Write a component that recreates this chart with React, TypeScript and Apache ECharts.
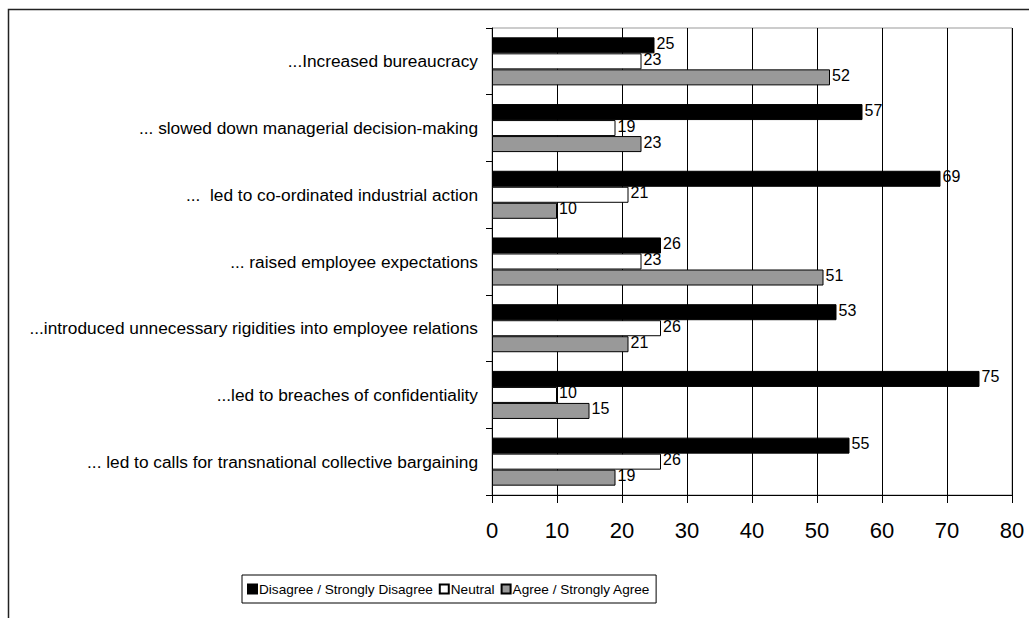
import React, { useEffect, useRef } from "react";
import * as echarts from "echarts";

const categories = [
  "...Increased bureaucracy",
  "... slowed down managerial decision-making",
  "...  led to co-ordinated industrial action",
  "... raised employee expectations",
  "...introduced unnecessary rigidities into employee relations",
  "...led to breaches of confidentiality",
  "... led to calls for transnational collective bargaining",
];

const disagree = [25, 57, 69, 26, 53, 75, 55];
const neutral = [23, 19, 21, 23, 26, 10, 26];
const agree = [52, 23, 10, 51, 21, 15, 19];

const seriesNames = [
  "Disagree / Strongly Disagree",
  "Neutral",
  "Agree / Strongly Agree",
];

const FONT = "'Liberation Sans Narrow', 'Arial Narrow', 'Liberation Sans', Arial, sans-serif";

export default function App() {
  const ref = useRef<HTMLDivElement>(null);

  useEffect(() => {
    if (!ref.current) return;
    const chart = echarts.init(ref.current, undefined, { renderer: "svg" });

    const labelCfg = {
      show: true,
      position: "right" as const,
      distance: 2,
      offset: [0, -2],
      color: "#000",
      fontSize: 16,
      fontFamily: FONT,
    };

    const mk = (name: string, data: number[], color: string) => ({
      name,
      type: "bar" as const,
      data,
      barGap: "0%",
      barCategoryGap: "28%",
      itemStyle: { color, borderColor: "#000", borderWidth: 1 },
      label: labelCfg,
    });

    chart.setOption({
      animation: false,
      backgroundColor: "#fff",
      textStyle: { fontFamily: FONT },
      graphic: [
        {
          type: "rect",
          shape: { x: 8.5, y: 9.5, width: 1100, height: 700 },
          style: { fill: "none", stroke: "#222", lineWidth: 1.5 },
          silent: true,
          z: -1,
        },
      ],
      grid: {
        left: 492,
        right: 17,
        top: 28,
        bottom: 123,
        show: true,
        borderColor: "#999",
        borderWidth: 1,
        backgroundColor: "transparent",
      },
      xAxis: {
        type: "value",
        min: 0,
        max: 80,
        interval: 10,
        axisLine: { show: true, lineStyle: { color: "#000", width: 1 } },
        axisTick: { show: true, length: 8, lineStyle: { color: "#000" } },
        splitLine: { show: true, lineStyle: { color: "#000", width: 1 } },
        axisLabel: {
          color: "#000",
          fontSize: 22,
          fontFamily: FONT,
          margin: 24,
        },
      },
      yAxis: {
        type: "category",
        inverse: true,
        data: categories,
        axisLine: { show: true, lineStyle: { color: "#000", width: 1 } },
        axisTick: { show: true, length: 6, lineStyle: { color: "#000" } },
        splitLine: { show: false },
        axisLabel: {
          color: "#000",
          fontSize: 17.3,
          fontFamily: FONT,
          margin: 14,
        },
      },
      legend: {
        left: 242,
        top: 575,
        orient: "horizontal",
        data: seriesNames,
        borderColor: "#000",
        borderWidth: 1,
        padding: [7, 6, 7, 5],
        itemGap: 6,
        itemWidth: 9,
        itemHeight: 9,
        icon: "rect",
        textStyle: { color: "#000", fontSize: 13.6, fontFamily: FONT, padding: [0, 0, 0, -3] },
      },
      series: [
        mk(seriesNames[0], disagree, "#000000"),
        mk(seriesNames[1], neutral, "#ffffff"),
        mk(seriesNames[2], agree, "#999999"),
      ],
    });

    return () => chart.dispose();
  }, []);

  return (
    <div
      ref={ref}
      style={{ position: "absolute", left: 0, top: 0, width: 1029, height: 618 }}
    />
  );
}
